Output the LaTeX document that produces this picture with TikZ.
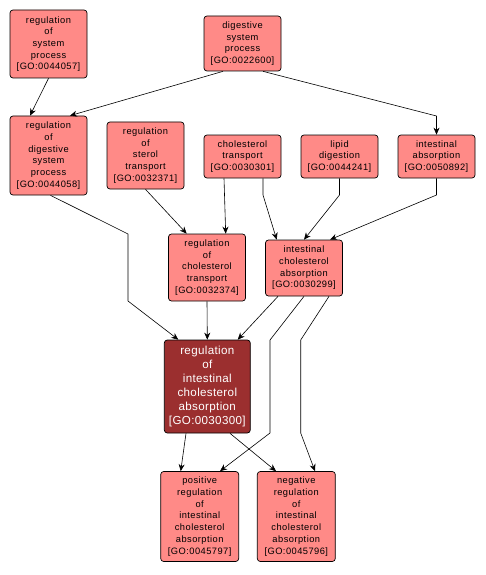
\documentclass[tikz,border=0pt]{standalone}
\usepackage{fontspec}
\setmainfont{Liberation Sans}
\usetikzlibrary{arrows.meta,calc}
\definecolor{pinkfill}{HTML}{FF8A87}
\definecolor{darkfill}{HTML}{9B2F2F}
\begin{document}
\begin{tikzpicture}[x=1pt,y=-1pt,
  go/.style={draw=black, line width=0.7pt, rounded corners=3pt, fill=pinkfill,
    align=center, inner sep=0pt, minimum width=77pt,
    font=\fontsize{9.3}{11.7}\selectfont\addfontfeature{LetterSpace=5}},
  gomain/.style={go, fill=darkfill, text=white, minimum width=86pt,
    font=\fontsize{11.6}{14}\selectfont\addfontfeature{LetterSpace=3}},
  edge/.style={-{Stealth[length=7pt,width=6pt]}, line width=0.6pt}]
\fill[white] (0,0) rectangle (486,575);
\useasboundingbox (0,0) rectangle (486,575);

\node[go, minimum height=68pt] (n44057) at (48.5,44) {regulation\\of\\system\\process\\{[GO:0044057]}};
\node[go, minimum height=55pt] (n22600) at (242.5,43.5) {digestive\\system\\process\\{[GO:0022600]}};
\node[go, minimum height=79pt] (n44058) at (48.5,155.5) {regulation\\of\\digestive\\system\\process\\{[GO:0044058]}};
\node[go, minimum height=67pt] (n32371) at (145.5,155.5) {regulation\\of\\sterol\\transport\\{[GO:0032371]}};
\node[go, minimum height=43pt] (n30301) at (242.5,156.5) {cholesterol\\transport\\{[GO:0030301]}};
\node[go, minimum height=43pt] (n44241) at (339.5,156.5) {lipid\\digestion\\{[GO:0044241]}};
\node[go, minimum height=43pt] (n50892) at (436.5,156.5) {intestinal\\absorption\\{[GO:0050892]}};
\node[go, minimum height=67pt] (n32374) at (207,267.5) {regulation\\of\\cholesterol\\transport\\{[GO:0032374]}};
\node[go, minimum height=56pt] (n30299) at (304,268) {intestinal\\cholesterol\\absorption\\{[GO:0030299]}};
\node[gomain, minimum height=93pt] (n30300) at (207.3,386.5) {regulation\\of\\intestinal\\cholesterol\\absorption\\{[GO:0030300]}};
\node[go, minimum width=78pt, minimum height=90pt] (n45797) at (199.7,516.5) {positive\\regulation\\of\\intestinal\\cholesterol\\absorption\\{[GO:0045797]}};
\node[go, minimum width=78pt, minimum height=90pt] (n45796) at (296.3,516.5) {negative\\regulation\\of\\intestinal\\cholesterol\\absorption\\{[GO:0045796]}};

\coordinate (b1) at (436.5,116);
\coordinate (b2) at (128,234);
\coordinate (b3) at (128,301);
\coordinate (b4) at (263,195);
\coordinate (b5) at (339.5,195);
\coordinate (b6) at (436.5,195);
\coordinate (b7) at (270,340);
\coordinate (b8) at (270,433);
\coordinate (b9) at (300.7,340);
\coordinate (b10) at (300.7,433);

\draw[edge] (n44057.south) -- ([xshift=-18.5pt]n44058.north);
\draw[edge] ([xshift=-19.5pt]n22600.south) -- ([xshift=21.5pt]n44058.north);
\draw[edge] ([xshift=20.5pt]n22600.south) -- (b1) -- (n50892.north);
\draw[edge] ([xshift=2pt]n44058.south) -- (b2) -- (b3) -- ([xshift=-29pt]n30300.north);
\draw[edge] (n32371.south) -- ([xshift=-20.3pt]n32374.north);
\draw[edge] ([xshift=-18.5pt]n30301.south) -- ([xshift=18.7pt]n32374.north);
\draw[edge] ([xshift=20.5pt]n30301.south) -- (b4) -- ([xshift=-27.3pt]n30299.north);
\draw[edge] (n44241.south) -- (b5) -- (n30299.north);
\draw[edge] (n50892.south) -- (b6) -- ([xshift=26pt]n30299.north);
\draw[edge] (n32374.south) -- (n30300.north);
\draw[edge] ([xshift=-26pt]n30299.south) -- ([xshift=30.4pt]n30300.north);
\draw[edge] (n30299.south) -- (b7) -- (b8) -- ([xshift=20.3pt]n45797.north);
\draw[edge] ([xshift=25pt]n30299.south) -- (b9) -- (b10) -- ([xshift=18.7pt]n45796.north);
\draw[edge] ([xshift=-21.3pt]n30300.south) -- ([xshift=-19pt]n45797.north);
\draw[edge] ([xshift=22.7pt]n30300.south) -- ([xshift=-20.3pt]n45796.north);
\end{tikzpicture}
\end{document}
